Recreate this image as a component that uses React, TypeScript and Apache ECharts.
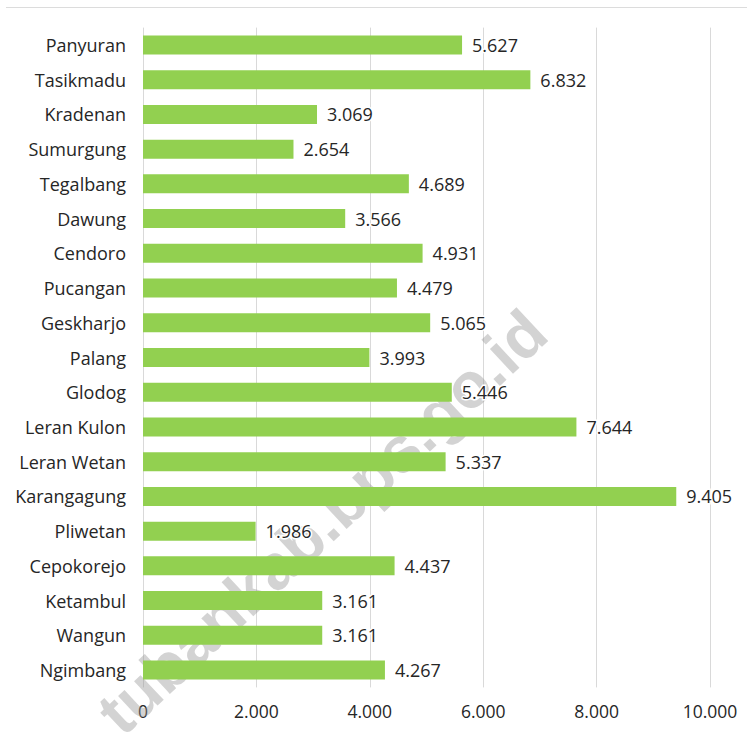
import React, { useEffect, useRef } from "react";
import * as echarts from "echarts";

const categories = [
  "Panyuran", "Tasikmadu", "Kradenan", "Sumurgung", "Tegalbang", "Dawung",
  "Cendoro", "Pucangan", "Geskharjo", "Palang", "Glodog", "Leran Kulon",
  "Leran Wetan", "Karangagung", "Pliwetan", "Cepokorejo", "Ketambul",
  "Wangun", "Ngimbang",
];
const values = [
  5627, 6832, 3069, 2654, 4689, 3566, 4931, 4479, 5065, 3993, 5446, 7644,
  5337, 9405, 1986, 4437, 3161, 3161, 4267,
];
const watermark = "tubankab.bps.go.id";

const fmt = (v: number) =>
  String(Math.round(v)).replace(/\B(?=(\d{3})+(?!\d))/g, ".");

export default function App() {
  const ref = useRef<HTMLDivElement>(null);
  useEffect(() => {
    if (!ref.current) return;
    const chart = echarts.init(ref.current, null, { renderer: "svg" });
    const font = "'Open Sans', sans-serif";
    chart.setOption({
      animation: false,
      backgroundColor: "#ffffff",
      grid: { left: 143, right: 37, top: 27.6, bottom: 45.6, containLabel: false },
      xAxis: {
        type: "value",
        min: 0,
        max: 10000,
        interval: 2000,
        axisLine: { show: false },
        axisTick: { show: false },
        splitLine: { show: true, lineStyle: { color: "#d9d9d9", width: 1 } },
        axisLabel: {
          margin: 15,
          fontSize: 17.5,
          fontFamily: font,
          color: "#262626",
          formatter: (v: number) => fmt(v),
        },
      },
      yAxis: {
        type: "category",
        data: categories,
        inverse: true,
        axisLine: { show: false },
        axisTick: { show: false },
        splitLine: { show: false },
        axisLabel: {
          margin: 17,
          fontSize: 18,
          fontFamily: font,
          color: "#262626",
        },
      },
      graphic: [
        {
          type: "line",
          shape: { x1: 6, y1: 7.5, x2: 747, y2: 7.5 },
          style: { stroke: "#dcdcdc", lineWidth: 1 },
          z: 1,
        },
        {
          type: "text",
          x: 322,
          y: 522,
          rotation: (43 * Math.PI) / 180,
          z: 1,
          style: {
            text: watermark,
            fontSize: 64,
            fontWeight: "bold",
            fontFamily: "'Liberation Sans', Arial, sans-serif",
            fill: "rgba(150,150,150,0.42)",
            textAlign: "center",
            textVerticalAlign: "middle",
          },
        },
      ],
      series: [
        {
          type: "bar",
          data: values,
          barWidth: 19,
          z: 3,
          itemStyle: { color: "#92D050" },
          label: {
            show: true,
            position: "right",
            distance: 10,
            fontSize: 18,
            fontFamily: font,
            color: "#262626",
            textBorderColor: "#ffffff",
            textBorderWidth: 3,
            formatter: (p: any) => fmt(p.value),
          },
        },
      ],
    });
    return () => chart.dispose();
  }, []);
  return (
    <div
      ref={ref}
      style={{ position: "fixed", left: 0, top: 0, width: 747, height: 733 }}
    />
  );
}
